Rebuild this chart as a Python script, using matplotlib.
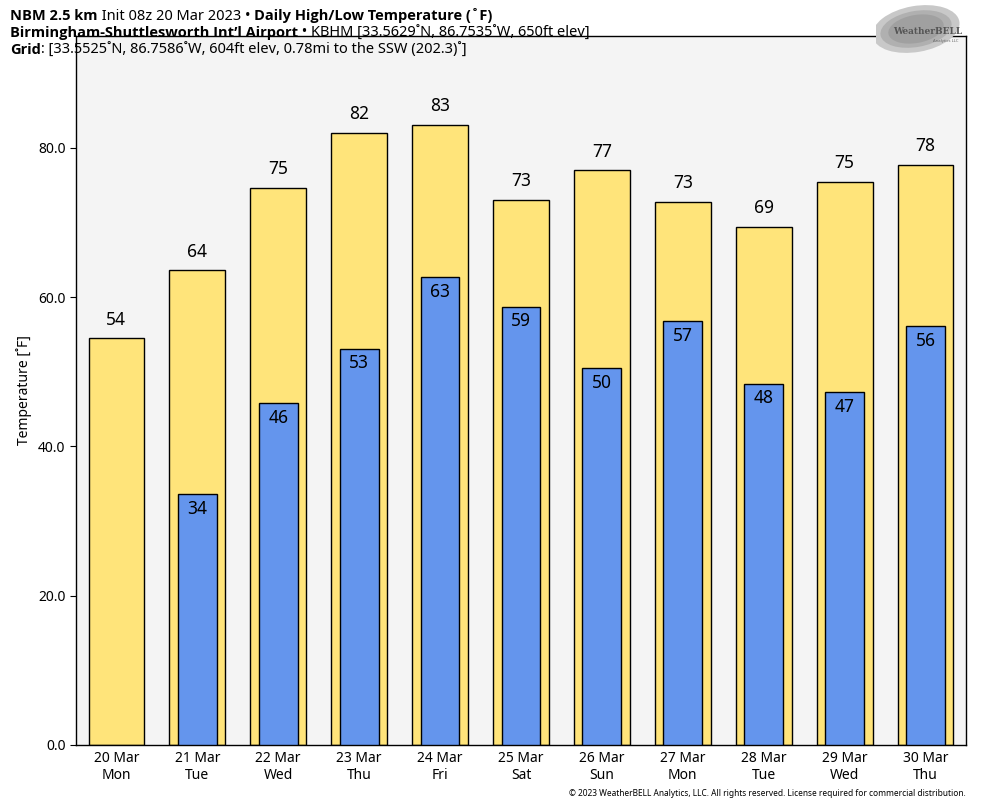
import matplotlib
matplotlib.use("Agg")
import matplotlib.pyplot as plt
from matplotlib.patches import Ellipse
from matplotlib import font_manager
import numpy as np

plt.rcParams['font.family'] = ['Noto Sans', 'DejaVu Sans']

dates = ["20 Mar", "21 Mar", "22 Mar", "23 Mar", "24 Mar", "25 Mar",
         "26 Mar", "27 Mar", "28 Mar", "29 Mar", "30 Mar"]
days = ["Mon", "Tue", "Wed", "Thu", "Fri", "Sat", "Sun", "Mon", "Tue", "Wed", "Thu"]
highs = [54.5, 63.6, 74.6, 82.0, 83.1, 73.0, 77.0, 72.8, 69.4, 75.45, 77.7]
lows = [None, 33.6, 45.8, 53.1, 62.7, 58.7, 50.5, 56.8, 48.4, 47.3, 56.1]

# pick a family with a real bold face
bold_family = 'DejaVu Sans'
for fam in ['Noto Sans', 'Open Sans', 'Roboto', 'Lato']:
    try:
        p = font_manager.findfont(font_manager.FontProperties(family=fam, weight='bold'),
                                  fallback_to_default=False)
        if 'bold' in p.lower():
            bold_family = fam
            break
    except Exception:
        pass

fig = plt.figure(figsize=(9.84, 8.08), dpi=100)
ax = fig.add_axes([0.0772, 0.078, 0.9045, 0.8775])
ax.set_facecolor('#f4f4f4')

x = np.arange(len(dates))
ax.bar(x, highs, width=0.69, color='#ffe47a', edgecolor='black', linewidth=1, zorder=2)
for i, h in enumerate(highs):
    ax.annotate(f"{round(h):d}", (x[i], h), xytext=(0, 7), textcoords='offset points',
                ha='center', va='bottom', fontsize=12.5, zorder=4)
lx = [x[i] for i, v in enumerate(lows) if v is not None]
lv = [v for v in lows if v is not None]
ax.bar(lx, lv, width=0.48, color='#6495ed', edgecolor='black', linewidth=1, zorder=3)
for xi, v in zip(lx, lv):
    ax.annotate(f"{round(v):d}", (xi, v), xytext=(0, -4), textcoords='offset points',
                ha='center', va='top', fontsize=12.5, zorder=4)

ax.set_xlim(-0.5, 10.5)
ax.set_ylim(0, 95)
ax.set_yticks([0, 20, 40, 60, 80])
ax.set_yticklabels(["0.0", "20.0", "40.0", "60.0", "80.0"], fontsize=10)
ax.set_xticks(x)
ax.set_xticklabels([f"{d}\n{w}" for d, w in zip(dates, days)], fontsize=10)
ax.tick_params(axis='x', length=0, pad=4)
ax.tick_params(axis='y', length=4)
ax.set_ylabel("Temperature [˚F]", fontsize=10)
for s in ax.spines.values():
    s.set_linewidth(1)

# Header lines with mixed weights
fig.canvas.draw()
renderer = fig.canvas.get_renderer()

def line(y, pieces):
    xpos = 10 / 984
    for txt, bold in pieces:
        if bold:
            t = fig.text(xpos, y, txt, fontsize=10.5, fontweight='bold', family=bold_family,
                         ha='left', va='baseline')
        else:
            t = fig.text(xpos, y, txt, fontsize=10.5, ha='left', va='baseline')
        bb = t.get_window_extent(renderer=renderer)
        xpos += bb.width / fig.bbox.width

line(1 - 20 / 808, [("NBM 2.5 km", True), (" Init 08z 20 Mar 2023 • ", False),
                     ("Daily High/Low Temperature (˚F)", True)])
line(1 - 37 / 808, [("Birmingham-Shuttlesworth Int\u2019l Airport", True),
                     (" • KBHM [33.5629˚N, 86.7535˚W, 650ft elev]", False)])
line(1 - 54 / 808, [("Grid", True),
                     (": [33.5525˚N, 86.7586˚W, 604ft elev, 0.78mi to the SSW (202.3)˚]", False)])

fig.text(966 / 984, 1 - 794 / 808,
         "© 2023 WeatherBELL Analytics, LLC. All rights reserved. License required for commercial distribution.",
         fontsize=6, ha='right', va='center')

# Logo
lax = fig.add_axes([876 / 984, 1 - 56 / 808, 94 / 984, 52 / 808])
lax.set_xlim(0, 94)
lax.set_ylim(0, 52)
lax.axis('off')
for w, h, c in [(88, 46, '#c8c8c8'), (72, 36, '#b0b0b0'), (56, 28, '#a0a0a0')]:
    lax.add_patch(Ellipse((40, 27), w, h, angle=10, facecolor=c, edgecolor='none'))
lax.text(52, 24, "WeatherBELL", fontsize=6.5, color='#555555', ha='center', va='center',
         fontweight='bold', family='DejaVu Serif')
lax.text(70, 15, "Analytics LLC", fontsize=3, color='#666666', ha='center', va='center')

fig.savefig("out.png", dpi=100)
